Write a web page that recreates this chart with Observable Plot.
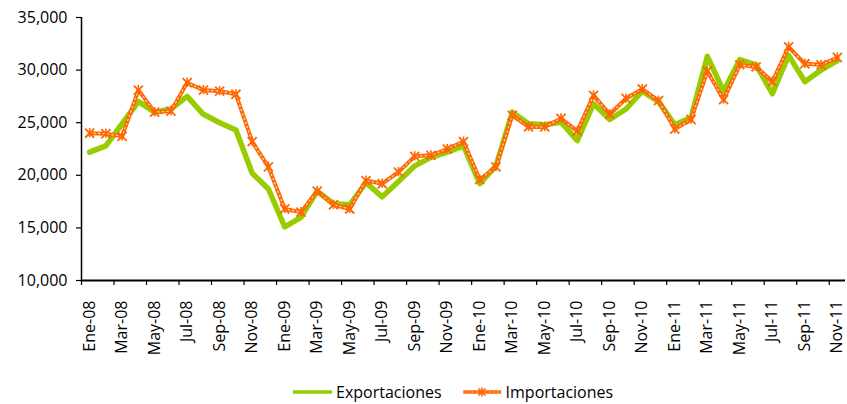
<!DOCTYPE html>
<html>
<head>
<meta charset="utf-8">
<script src="https://cdn.jsdelivr.net/npm/d3@7"></script>
<script src="https://cdn.jsdelivr.net/npm/@observablehq/plot@0.6"></script>
<style>
  html, body { margin: 0; padding: 0; background: #fff; }
  #wrap { position: relative; width: 847px; height: 404px; overflow: hidden; font-family: "Open Sans", sans-serif; }
  #legend { position: absolute; left: 293px; top: 382px; display: flex; align-items: center; font-size: 16px; color: #000; line-height: 20px; white-space: nowrap; }
  #legend .item { display: flex; align-items: center; }
  #legend svg { display: block; }
</style>
</head>
<body>
<div id="wrap"><div id="chart"></div><div id="legend"></div></div>
<script>
const months = [
  "Ene-08","Feb-08","Mar-08","Abr-08","May-08","Jun-08","Jul-08","Ago-08","Sep-08","Oct-08","Nov-08","Dic-08",
  "Ene-09","Feb-09","Mar-09","Abr-09","May-09","Jun-09","Jul-09","Ago-09","Sep-09","Oct-09","Nov-09","Dic-09",
  "Ene-10","Feb-10","Mar-10","Abr-10","May-10","Jun-10","Jul-10","Ago-10","Sep-10","Oct-10","Nov-10","Dic-10",
  "Ene-11","Feb-11","Mar-11","Abr-11","May-11","Jun-11","Jul-11","Ago-11","Sep-11","Oct-11","Nov-11"
];
const exportaciones = [
  22200, 22800, 24900, 27000, 26000, 26300, 27500, 25800, 25000, 24300, 20200, 18700,
  15100, 16000, 18500, 17300, 17200, 19300, 17950, 19400, 20900, 21700, 22200, 22800,
  19200, 20900, 26000, 24900, 24800, 25050, 23300, 26800, 25300, 26300, 28000, 27000,
  24800, 25500, 31300, 28000, 31000, 30500, 27750, 31400, 28900, 30000, 30900
];
const importaciones = [
  24000, 23950, 23700, 28100, 26000, 26100, 28800, 28100, 28000, 27700, 23200, 20800,
  16800, 16500, 18500, 17200, 16800, 19500, 19200, 20300, 21800, 21900, 22500, 23200,
  19600, 20800, 25700, 24600, 24600, 25400, 24200, 27600, 25800, 27300, 28200, 27100,
  24400, 25300, 29900, 27200, 30500, 30300, 28900, 32200, 30600, 30500, 31200
];
const seriesNames = ["Exportaciones", "Importaciones"];
const yTicks = [10000, 15000, 20000, 25000, 30000, 35000];

const GREEN = "#99cc00";
const ORANGE = "#ff6600";

const exp = exportaciones.map((v, i) => ({i, v}));
const imp = importaciones.map((v, i) => ({i, v}));
const labelIdx = months.map((m, i) => i).filter(i => i % 2 === 0);
const tickPos = labelIdx.map(i => i - 0.5);

const fmt = d3.format(",");

const chart = Plot.plot({
  width: 847,
  height: 380,
  marginLeft: 81,
  marginRight: 2,
  marginTop: 17,
  marginBottom: 100,
  style: { fontFamily: "Open Sans, sans-serif", fontSize: "16px", color: "#000", background: "#fff" },
  x: { type: "linear", domain: [-0.5, months.length - 0.5], label: null },
  y: { type: "linear", domain: [10000, 35000], label: null },
  marks: [
    // y axis
    Plot.axisY({ ticks: yTicks, tickFormat: fmt, tickSize: 5, tickPadding: 9, fontSize: 16, stroke: "#000", strokeWidth: 1.2, label: null }),
    Plot.ruleX([-0.5], { stroke: "#000", strokeWidth: 1.5 }),
    // x axis
    Plot.axisX({ ticks: tickPos, tickFormat: () => "", tickSize: 5, stroke: "#000", strokeWidth: 1.2, label: null }),
    Plot.axisX({ ticks: labelIdx, tickFormat: d => months[d], tickSize: 0, tickPadding: 20, tickRotate: -90, fontSize: 16, label: null }),
    Plot.ruleY([10000], { stroke: "#000", strokeWidth: 2 }),
    // series
    Plot.line(exp, { x: "i", y: "v", stroke: GREEN, strokeWidth: 5.5, strokeLinejoin: "round", strokeLinecap: "round" }),
    Plot.line(imp, { x: "i", y: "v", stroke: ORANGE, strokeWidth: 4, strokeLinejoin: "round" }),
    Plot.line(imp, { x: "i", y: "v", stroke: "#ffd2b0", strokeWidth: 1.3, strokeDasharray: "1.3,3.2" }),
    Plot.dot(imp, { x: "i", y: "v", symbol: "times", r: 4.2, stroke: ORANGE, strokeWidth: 1.8 }),
    Plot.ruleX(imp, { x: "i", y1: d => d.v - 440, y2: d => d.v + 440, stroke: ORANGE, strokeWidth: 1.6 })
  ]
});
document.getElementById("chart").appendChild(chart);

// legend
const legend = document.getElementById("legend");
function item(name, swatchSvg, gap) {
  const d = document.createElement("div");
  d.className = "item";
  d.style.marginRight = gap + "px";
  d.innerHTML = swatchSvg + `<span style="margin-left:4px">${name}</span>`;
  return d;
}
const sw1 = `<svg width="39" height="10"><line x1="0" y1="5" x2="39" y2="5" stroke="${GREEN}" stroke-width="3.5"/></svg>`;
const sw2 = `<svg width="40" height="12"><line x1="1" y1="6" x2="39" y2="6" stroke="${ORANGE}" stroke-width="3.5"/>
<line x1="1" y1="6" x2="39" y2="6" stroke="#ffd2b0" stroke-width="1.2" stroke-dasharray="1.3,3"/>
<path d="M16.5,2.5 L23.5,9.5 M23.5,2.5 L16.5,9.5 M20,1.5 L20,10.5" stroke="${ORANGE}" stroke-width="1.6"/></svg>`;
legend.appendChild(item(seriesNames[0], sw1, 20));
legend.appendChild(item(seriesNames[1], sw2, 0));
</script>
</body>
</html>
